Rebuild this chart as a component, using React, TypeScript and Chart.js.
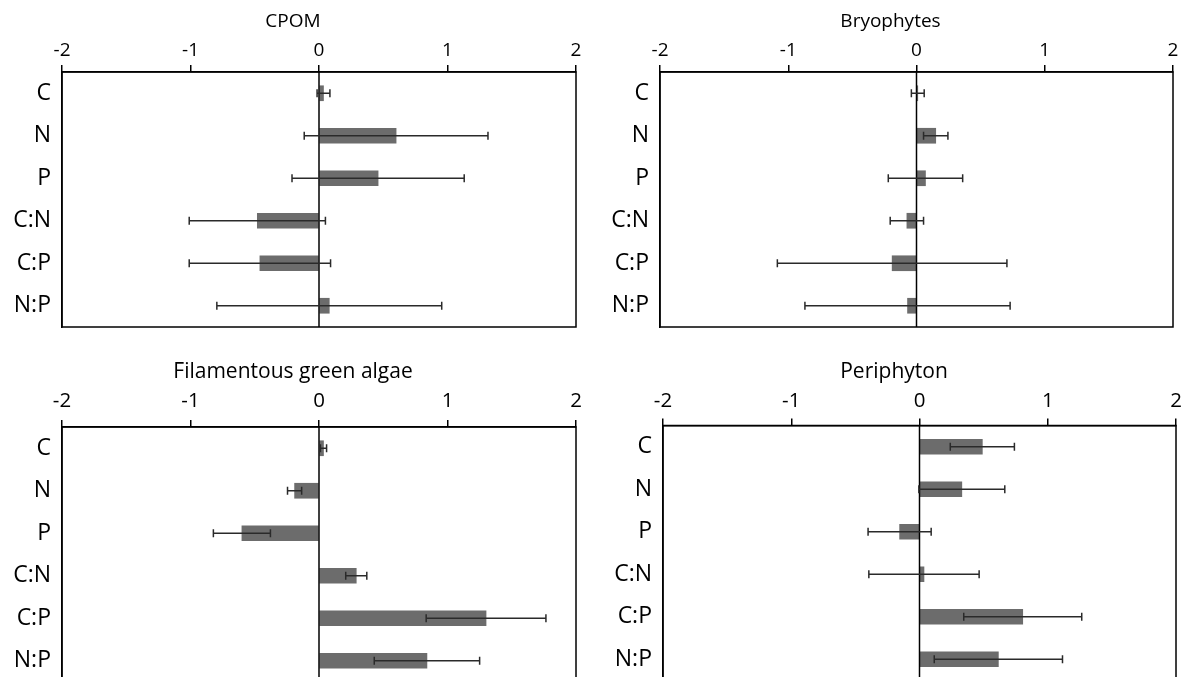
import React, { useEffect, useRef } from 'react';
import { Chart, registerables } from 'chart.js';

Chart.register(...registerables);

const categories = ['C', 'N', 'P', 'C:N', 'C:P', 'N:P'];
const xTickValues = [-2, -1, 0, 1, 2];

const cpomMean = [0.035, 0.6, 0.46, -0.48, -0.46, 0.08];
const cpomErr = [0.05, 0.715, 0.67, 0.53, 0.55, 0.875];

const bryoMean = [0.01, 0.15, 0.07, -0.075, -0.19, -0.07];
const bryoErr = [0.05, 0.095, 0.29, 0.13, 0.895, 0.8];

const algaeMean = [0.035, -0.19, -0.6, 0.29, 1.3, 0.84];
const algaeErr = [0.024, 0.055, 0.222, 0.082, 0.466, 0.41];

const periMean = [0.49, 0.33, -0.155, 0.035, 0.805, 0.615];
const periErr = [0.25, 0.335, 0.246, 0.43, 0.46, 0.5];

const FONT = "'Open Sans', 'Noto Sans', sans-serif";

const framePlugin = {
  id: 'frame',
  afterDatasetsDraw(chart: any) {
    const { ctx, chartArea: a } = chart;
    const x0 = chart.scales.x.getPixelForValue(0);
    ctx.save();
    ctx.strokeStyle = '#000';
    ctx.lineWidth = 1.5;
    ctx.strokeRect(a.left, a.top, a.right - a.left, a.bottom - a.top);
    ctx.beginPath();
    ctx.moveTo(x0, a.top);
    ctx.lineTo(x0, a.bottom);
    ctx.stroke();
    ctx.restore();
  },
};

const errorBarPlugin = {
  id: 'errorBars',
  afterDatasetsDraw(chart: any, _args: any, opts: any) {
    const errs: number[] = opts.errors;
    if (!errs) return;
    const { ctx } = chart;
    const xs = chart.scales.x;
    const ys = chart.scales.y;
    const vals: number[] = chart.data.datasets[0].data;
    ctx.save();
    ctx.strokeStyle = '#2a2a2a';
    ctx.lineWidth = 1.5;
    vals.forEach((v, i) => {
      const y = ys.getPixelForValue(i);
      const x1 = xs.getPixelForValue(v - errs[i]);
      const x2 = xs.getPixelForValue(v + errs[i]);
      ctx.beginPath();
      ctx.moveTo(x1, y);
      ctx.lineTo(x2, y);
      ctx.moveTo(x1, y - 4);
      ctx.lineTo(x1, y + 4);
      ctx.moveTo(x2, y - 4);
      ctx.lineTo(x2, y + 4);
      ctx.stroke();
    });
    ctx.restore();
  },
};

type PanelProps = {
  left: number;
  top: number;
  width: number;
  height: number;
  title: string;
  titleSize: number;
  titlePadTop: number;
  xHeight: number;
  tickSize: number;
  tickPad: number;
  padLeft: number;
  yWidth: number;
  padRight: number;
  padBottom: number;
  means: number[];
  errs: number[];
};

function Panel(p: PanelProps) {
  const ref = useRef<HTMLCanvasElement | null>(null);
  useEffect(() => {
    if (!ref.current) return;
    const chart = new Chart(ref.current, {
      type: 'bar',
      data: {
        labels: categories,
        datasets: [
          {
            data: p.means,
            backgroundColor: '#6c6c6c',
            borderWidth: 0,
            barThickness: 15,
          },
        ],
      },
      plugins: [framePlugin, errorBarPlugin],
      options: {
        indexAxis: 'y',
        animation: false,
        responsive: false,
        layout: { padding: { top: 0, left: p.padLeft, right: p.padRight, bottom: p.padBottom } },
        plugins: {
          legend: { display: false },
          tooltip: { enabled: false },
          title: {
            display: true,
            text: p.title,
            color: '#000',
            font: { family: FONT, size: p.titleSize, weight: 'normal' },
            padding: { top: p.titlePadTop, bottom: 0 },
          },
          errorBars: { errors: p.errs },
        } as any,
        scales: {
          x: {
            type: 'linear',
            position: 'top',
            min: xTickValues[0],
            max: xTickValues[xTickValues.length - 1],
            ticks: {
              stepSize: 1,
              color: '#000',
              font: { family: FONT, size: p.tickSize },
              padding: p.tickPad,
            },
            grid: {
              drawOnChartArea: false,
              drawTicks: true,
              tickLength: 7,
              color: '#000',
              lineWidth: 1.5,
            },
            border: { display: true, color: '#000', width: 1.5 },
            afterFit: (s: any) => {
              s.height = p.xHeight;
              s.paddingLeft = 0;
              s.paddingRight = 0;
            },
          },
          y: {
            type: 'category',
            offset: true,
            ticks: {
              color: '#000',
              font: { family: FONT, size: 23 },
              padding: 11,
            },
            grid: { display: false, drawTicks: false },
            border: { display: true, color: '#000', width: 1.5 },
            afterFit: (s: any) => {
              s.width = p.yWidth;
              s.paddingTop = 0;
              s.paddingBottom = 0;
            },
          },
        },
      } as any,
    });
    return () => chart.destroy();
  }, []);
  return (
    <canvas
      ref={ref}
      width={p.width}
      height={p.height}
      style={{ position: 'absolute', left: p.left, top: p.top, width: p.width, height: p.height }}
    />
  );
}

export default function App() {
  return (
    <div
      style={{
        position: 'fixed',
        left: 0,
        top: 0,
        width: 1182,
        height: 677,
        overflow: 'hidden',
        background: '#fff',
      }}
    >
      <Panel left={0} top={0} width={590} height={340} title="CPOM" titleSize={19} titlePadTop={10.6}
        xHeight={38.6} tickSize={19} tickPad={2.6} padLeft={10} yWidth={52} padRight={14} padBottom={13}
        means={cpomMean} errs={cpomErr} />
      <Panel left={590} top={0} width={592} height={340} title="Bryophytes" titleSize={19} titlePadTop={10.6}
        xHeight={38.6} tickSize={19} tickPad={2.6} padLeft={18} yWidth={52} padRight={9} padBottom={13}
        means={bryoMean} errs={bryoErr} />
      <Panel left={0} top={340} width={590} height={350} title="Filamentous green algae" titleSize={21} titlePadTop={19.4}
        xHeight={42.4} tickSize={20.5} tickPad={6.2} padLeft={10} yWidth={52} padRight={14} padBottom={8}
        means={algaeMean} errs={algaeErr} />
      <Panel left={590} top={340} width={592} height={350} title="Periphyton" titleSize={21} titlePadTop={19.9}
        xHeight={40.4} tickSize={20.5} tickPad={4.7} padLeft={22} yWidth={51} padRight={6} padBottom={9.5}
        means={periMean} errs={periErr} />
    </div>
  );
}
